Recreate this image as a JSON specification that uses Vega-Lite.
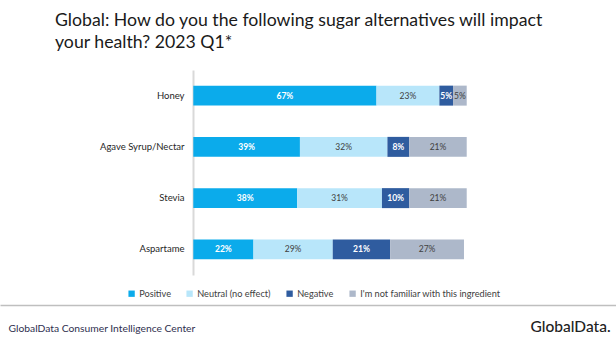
{
  "$schema": "https://vega.github.io/schema/vega-lite/v6.json",
  "width": 616,
  "height": 205,
  "autosize": {"type": "none"},
  "padding": {"top": 70, "left": 0, "right": 0, "bottom": 88},
  "background": "white",
  "config": {"view": {"stroke": null}, "font": "Lato"},
  "title": {
    "text": ["Global: How do you the following sugar alternatives will impact", "your health? 2023 Q1*"],
    "anchor": "start", "frame": "group", "dx": 55, "offset": 18,
    "fontSize": 17.7, "fontWeight": "normal", "color": "#1a1a1a", "font": "Lato", "lineHeight": 22
  },
  "data": {"values": [
    {"item": "Honey", "response": "Positive", "k": 1, "v": 0.67},
    {"item": "Honey", "response": "Neutral (no effect)", "k": 2, "v": 0.23},
    {"item": "Honey", "response": "Negative", "k": 3, "v": 0.05},
    {"item": "Honey", "response": "I'm not familiar with this ingredient", "k": 4, "v": 0.05},
    {"item": "Agave Syrup/Nectar", "response": "Positive", "k": 1, "v": 0.39},
    {"item": "Agave Syrup/Nectar", "response": "Neutral (no effect)", "k": 2, "v": 0.32},
    {"item": "Agave Syrup/Nectar", "response": "Negative", "k": 3, "v": 0.08},
    {"item": "Agave Syrup/Nectar", "response": "I'm not familiar with this ingredient", "k": 4, "v": 0.21},
    {"item": "Stevia", "response": "Positive", "k": 1, "v": 0.38},
    {"item": "Stevia", "response": "Neutral (no effect)", "k": 2, "v": 0.31},
    {"item": "Stevia", "response": "Negative", "k": 3, "v": 0.10},
    {"item": "Stevia", "response": "I'm not familiar with this ingredient", "k": 4, "v": 0.21},
    {"item": "Aspartame", "response": "Positive", "k": 1, "v": 0.22},
    {"item": "Aspartame", "response": "Neutral (no effect)", "k": 2, "v": 0.29},
    {"item": "Aspartame", "response": "Negative", "k": 3, "v": 0.21},
    {"item": "Aspartame", "response": "I'm not familiar with this ingredient", "k": 4, "v": 0.27}
  ]},
  "encoding": {
    "y": {
      "field": "item", "type": "nominal",
      "sort": ["Honey", "Agave Syrup/Nectar", "Stevia", "Aspartame"],
      "scale": {"paddingInner": 0.61, "paddingOuter": 0.305},
      "axis": {
        "offset": -193, "domainColor": "#D9D9D9", "domainWidth": 2, "ticks": false,
        "labelPadding": 9, "labelFontSize": 9.5, "labelColor": "#262626", "labelFont": "Lato",
        "title": "GlobalData.", "titleAngle": 0, "titleX": 337, "titleY": 261,
        "titleAlign": "left", "titleBaseline": "alphabetic", "titleFontSize": 15.5,
        "titleFontWeight": 500, "titleColor": "#222222", "titleFont": "Lato"
      }
    }
  },
  "layer": [
    {
      "mark": {"type": "bar"},
      "encoding": {
        "x": {
          "field": "v", "type": "quantitative", "stack": "zero",
          "scale": {"domain": [-0.707, 1.546], "nice": false, "zero": false},
          "axis": {
            "offset": 30, "domainColor": "#BFBFBF", "domainWidth": 1.5, "labels": false,
            "ticks": false, "grid": false,
            "title": "GlobalData Consumer Intelligence Center", "titleX": 8, "titleY": 26,
            "titleAlign": "left", "titleBaseline": "alphabetic", "titleFontSize": 10.3,
            "titleFontWeight": "normal", "titleColor": "#2f2f4f", "titleFont": "Lato"
          }
        },
        "color": {
          "field": "response", "type": "nominal",
          "scale": {
            "domain": ["Positive", "Neutral (no effect)", "Negative", "I'm not familiar with this ingredient"],
            "range": ["#0BABEB", "#B8E6FA", "#2F5C9F", "#ADB8CA"]
          },
          "legend": {
            "orient": "none", "legendX": 127, "legendY": 219, "direction": "horizontal",
            "title": null, "symbolType": "square", "symbolSize": 40, "symbolStrokeWidth": 0,
            "labelFontSize": 9.2, "labelColor": "#404040", "labelFont": "Lato",
            "columnPadding": 14, "labelOffset": 3
          }
        },
        "order": {"field": "k"}
      }
    },
    {
      "mark": {"type": "text", "fontWeight": "bold", "fontSize": 8.5, "font": "Lato"},
      "encoding": {
        "x": {"field": "v", "type": "quantitative", "stack": "zero", "bandPosition": 0.5,
              "scale": {"domain": [-0.707, 1.546], "nice": false, "zero": false}},
        "detail": {"field": "response"},
        "order": {"field": "k"},
        "text": {"field": "v", "type": "quantitative", "format": ".0%"},
        "color": {"condition": {"test": "datum.k == 1 || datum.k == 3", "value": "#FFFFFF"}, "value": "transparent"}
      }
    },
    {
      "mark": {"type": "text", "fontWeight": "normal", "fontSize": 8.5, "font": "Lato"},
      "encoding": {
        "x": {"field": "v", "type": "quantitative", "stack": "zero", "bandPosition": 0.5,
              "scale": {"domain": [-0.707, 1.546], "nice": false, "zero": false}},
        "detail": {"field": "response"},
        "order": {"field": "k"},
        "text": {"field": "v", "type": "quantitative", "format": ".0%"},
        "color": {"condition": {"test": "datum.k == 2 || datum.k == 4", "value": "#404040"}, "value": "transparent"}
      }
    }
  ]
}
